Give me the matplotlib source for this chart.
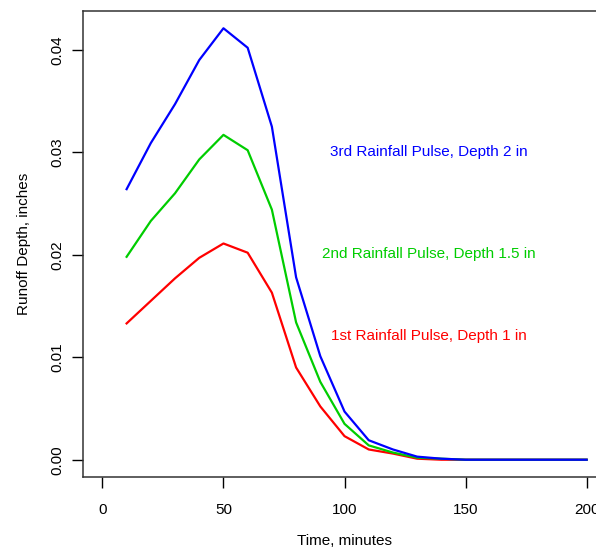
import numpy as np
import matplotlib
matplotlib.use("Agg")
import matplotlib.pyplot as plt

plt.rcParams["font.family"] = ["Liberation Sans", "DejaVu Sans"]

time_min = [10, 20, 30, 40, 50, 60, 70, 80, 90, 100,
            110, 120, 130, 140, 150, 160, 170, 180, 190, 200]
pulse3 = [0.0264, 0.0309, 0.0347, 0.0390, 0.0421, 0.0402, 0.0325, 0.0178, 0.0101, 0.0047,
          0.0019, 0.0010, 0.0003, 0.0001, 0.0000, 0.0000, 0.0000, 0.0000, 0.0000, 0.0000]
pulse2 = [0.0198, 0.0233, 0.0260, 0.0293, 0.0317, 0.0302, 0.0244, 0.0134, 0.0076, 0.0035,
          0.0014, 0.0007, 0.0002, 0.0001, 0.0000, 0.0000, 0.0000, 0.0000, 0.0000, 0.0000]
pulse1 = [0.0133, 0.0155, 0.0177, 0.0197, 0.0211, 0.0202, 0.0163, 0.0090, 0.0052, 0.0023,
          0.0010, 0.0006, 0.0001, 0.0000, 0.0000, 0.0000, 0.0000, 0.0000, 0.0000, 0.0000]
labels = ["3rd Rainfall Pulse, Depth 2 in",
          "2nd Rainfall Pulse, Depth 1.5 in",
          "1st Rainfall Pulse, Depth 1 in"]
label_y = [0.0300, 0.0201, 0.0121]
colors = ["#0000FF", "#00CD00", "#FF0000"]

fig = plt.figure(figsize=(5.96, 5.48), dpi=100)
ax = fig.add_axes([0.1393, 0.1296, 0.8775, 0.8503])

for vals, col in zip([pulse1, pulse2, pulse3], colors[::-1]):
    ax.plot(time_min, vals, color=col, lw=1.6)

for txt, yy, col in zip(labels, label_y, colors):
    ax.text(135, yy, txt, color=col, ha="center", va="center", fontsize=11)

# R-style ranges: 4% padding
ax.set_xlim(-8, 208)
ymax = max(pulse3)
ax.set_ylim(-0.04 * ymax, 1.04 * ymax)
ax.set_xticks([0, 50, 100, 150, 200])
ax.set_yticks([0.00, 0.01, 0.02, 0.03, 0.04])
ax.set_yticklabels(["0.00", "0.01", "0.02", "0.03", "0.04"], rotation=90, va="center")
ax.tick_params(direction="out", length=8, width=1, labelsize=11, pad=11)
ax.tick_params(axis="y", pad=5.5)
for sp in ax.spines.values():
    sp.set_linewidth(1.1)
    sp.set_color("#333333")

ax.set_xlabel("Time, minutes", fontsize=11, labelpad=12)
ax.set_ylabel("Runoff Depth, inches", fontsize=11, labelpad=14)

fig.savefig("out.png", dpi=100)
